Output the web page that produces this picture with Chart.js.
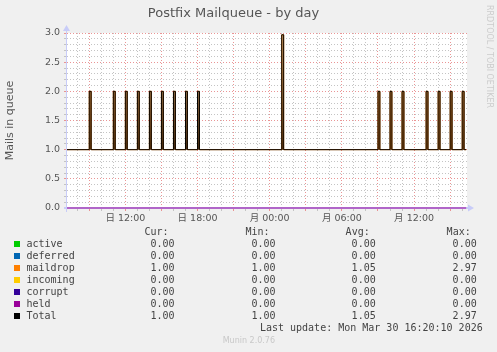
<!DOCTYPE html>
<html>
<head>
<meta charset="utf-8">
<script src="https://cdn.jsdelivr.net/npm/chart.js@4.4.1/dist/chart.umd.min.js"></script>
<style>
  html, body { margin: 0; padding: 0; background: #f0f0f0; }
  #wrap { position: relative; width: 497px; height: 352px; overflow: hidden; }
  #chart { position: absolute; left: 0; top: 0; }
  .txt { position: absolute; white-space: pre; font-family: "DejaVu Sans Mono", monospace; font-size: 10px; line-height: 12px; color: #444; }
  .sq { position: absolute; width: 6px; height: 6px; }
  .small { position: absolute; white-space: pre; font-family: "DejaVu Sans", sans-serif; font-size: 8px; line-height: 10px; color: #c8c8c8; }
  #rrd { writing-mode: vertical-rl; }
</style>
</head>
<body>
<div id="wrap">
  <canvas id="chart" width="497" height="352"></canvas>
</div>
<script>
// x axis is hours since Sunday 00:00
var xMin = 7.15;
var xMax = 40.4;
var lastSample = 40.33;
var xTickHours = [12, 18, 24, 30, 36];
var xTickLabels = ['日 12:00', '日 18:00', '月 00:00', '月 06:00', '月 12:00'];
var yTickValues = [0, 0.5, 1, 1.5, 2, 2.5, 3];
var yTickLabels = ['0.0', '0.5', '1.0', '1.5', '2.0', '2.5', '3.0'];

var seriesNames = ['active', 'deferred', 'maildrop', 'incoming', 'corrupt', 'held', 'Total'];
var seriesColors = ['#00cc00', '#0066b3', '#ff8000', '#ffcc00', '#330099', '#990099', '#000000'];
var baseValues = [0, 0, 1, 0, 0, 0, 1];
var spikeHours = [9, 11, 12, 13, 14, 15, 16, 17, 18, 25, 33, 34, 35, 37, 38, 39, 40];
var spikeValues = [2, 2, 2, 2, 2, 2, 2, 2, 2, 2.97, 2, 2, 2, 2, 2, 2, 2];
var spikeWidth = 0.16;

var curValues = [0, 0, 1, 0, 0, 0, 1];
var minValues = [0, 0, 1, 0, 0, 0, 1];
var avgValues = [0, 0, 1.05, 0, 0, 0, 1.05];
var maxValues = [0, 0, 2.97, 0, 0, 0, 2.97];

var RED = 'rgba(230,130,130,0.85)';
var GRAY = 'rgba(190,190,190,0.9)';
var AXIS = '#c8ccf8';
var tickFont = { family: '"DejaVu Sans", "Noto Sans CJK JP", sans-serif', size: 9.5 };

function buildPoints(i) {
  var base = baseValues[i];
  var pts = [{ x: xMin, y: base }];
  if (maxValues[i] > base) {
    spikeHours.forEach(function (h, k) {
      pts.push({ x: h, y: spikeValues[k] });
      pts.push({ x: h + spikeWidth, y: base });
    });
  }
  pts.push({ x: lastSample, y: base });
  return pts;
}

var datasets = seriesNames.map(function (name, i) {
  var ds = {
    label: name,
    data: buildPoints(i),
    borderColor: seriesColors[i],
    borderWidth: 1,
    pointRadius: 0,
    stepped: true,
    fill: false,
    clip: 3,
    order: seriesNames.length - i
  };
  if (name === 'maildrop') {
    ds.fill = { value: 1 };
    ds.backgroundColor = function (c) {
      var chart = c.chart;
      if (!chart.chartArea) return 'rgba(0,0,0,0)';
      var y = chart.scales.y;
      var g = chart.ctx.createLinearGradient(0, y.getPixelForValue(1), 0, y.getPixelForValue(3));
      g.addColorStop(0, '#3a2412');
      g.addColorStop(1, '#d8b488');
      return g;
    };
  }
  return ds;
});

var plotBg = {
  id: 'plotBg',
  beforeDraw: function (chart) {
    var a = chart.chartArea, ctx = chart.ctx;
    ctx.save();
    ctx.fillStyle = '#ffffff';
    ctx.fillRect(a.left, a.top, a.right - a.left, a.bottom - a.top);
    ctx.restore();
  }
};

// axes go in under the held line, like rrdtool does
function drawAxes(chart) {
  var a = chart.chartArea, ctx = chart.ctx;
  ctx.save();
  ctx.strokeStyle = AXIS;
  ctx.fillStyle = AXIS;
  ctx.lineWidth = 1;
  ctx.beginPath();
  ctx.moveTo(a.left - 0.5, a.bottom + 4);
  ctx.lineTo(a.left - 0.5, a.top - 2);
  ctx.stroke();
  ctx.lineWidth = 2;
  ctx.beginPath();
  ctx.moveTo(a.left - 3, a.bottom);
  ctx.lineTo(a.right + 2, a.bottom);
  ctx.stroke();
  ctx.beginPath();
  ctx.moveTo(a.left - 0.5, a.top - 8);
  ctx.lineTo(a.left - 4, a.top - 2);
  ctx.lineTo(a.left + 3, a.top - 2);
  ctx.closePath();
  ctx.fill();
  ctx.beginPath();
  ctx.moveTo(a.right + 7, a.bottom);
  ctx.lineTo(a.right + 1, a.bottom - 3.5);
  ctx.lineTo(a.right + 1, a.bottom + 3.5);
  ctx.closePath();
  ctx.fill();
  ctx.restore();
}
var axisArrows = {
  id: 'axisArrows',
  afterDatasetDraw: function (chart, args) {
    if (args.index === seriesNames.indexOf('corrupt')) drawAxes(chart);
  }
};

new Chart(document.getElementById('chart'), {
  type: 'line',
  data: { datasets: datasets },
  options: {
    responsive: false,
    devicePixelRatio: 1,
    animation: false,
    layout: { padding: { left: 0, right: 30, top: 0, bottom: 119 } },
    plugins: {
      legend: { display: false },
      tooltip: { enabled: false },
      title: {
        display: true,
        text: 'Postfix Mailqueue - by day',
        color: '#555',
        font: { family: '"DejaVu Sans", sans-serif', size: 13, weight: 'normal' },
        padding: { top: 5.5, bottom: 11.9 }
      }
    },
    scales: {
      x: {
        type: 'linear',
        min: xMin,
        max: xMax,
        afterBuildTicks: function (s) {
          var t = [];
          for (var h = Math.ceil(xMin); h <= xMax; h++) t.push({ value: h });
          s.ticks = t;
        },
        afterFit: function (s) { s.height = 25; },
        ticks: {
          autoSkip: false,
          maxRotation: 0,
          padding: 2,
          color: '#555',
          font: tickFont,
          callback: function (v) {
            var k = xTickHours.indexOf(v);
            return k >= 0 ? xTickLabels[k] : '';
          }
        },
        grid: {
          color: function (c) { return c.tick && c.tick.value % 3 === 0 ? RED : GRAY; },
          tickColor: function (c) { return c.tick && c.tick.value % 3 === 0 ? RED : GRAY; },
          tickLength: 3
        },
        border: { display: false, dash: [1, 2] }
      },
      y: {
        min: 0,
        max: 3,
        afterBuildTicks: function (s) {
          var t = [];
          for (var k = 0; k <= 30; k++) t.push({ value: k / 10 });
          s.ticks = t;
        },
        afterFit: function (s) { s.width = 67; },
        ticks: {
          autoSkip: false,
          padding: 4,
          color: '#555',
          font: tickFont,
          callback: function (v) {
            var k = yTickValues.indexOf(v);
            return k >= 0 ? yTickLabels[k] : '';
          }
        },
        grid: {
          color: function (c) { return c.tick && yTickValues.indexOf(c.tick.value) >= 0 ? RED : GRAY; },
          tickColor: function (c) { return c.tick && yTickValues.indexOf(c.tick.value) >= 0 ? RED : GRAY; },
          tickLength: 3
        },
        border: { display: false, dash: [1, 2] },
        title: {
          display: true,
          text: 'Mails in queue',
          color: '#555',
          font: { family: '"DejaVu Sans", sans-serif', size: 11 },
          padding: { top: 4, bottom: 0 }
        }
      }
    }
  },
  plugins: [plotBg, axisArrows]
});

// legend table below the plot
var wrap = document.getElementById('wrap');
function addText(cls, text, css) {
  var d = document.createElement('div');
  d.className = cls;
  d.textContent = text;
  for (var k in css) d.style[k] = css[k];
  wrap.appendChild(d);
  return d;
}
var colEnds = [174.5, 275.5, 375.7, 476.7];
var headers = ['Cur:', 'Min:', 'Avg:', 'Max:'];
headers.forEach(function (h, c) {
  addText('txt', h, { right: (497 - colEnds[c] + 6) + 'px', top: '226.3px' });
});
seriesNames.forEach(function (name, i) {
  var cy = 244.3 + 12 * i;
  var sq = document.createElement('div');
  sq.className = 'sq';
  sq.style.left = '14px';
  sq.style.top = (cy - 3) + 'px';
  sq.style.background = seriesColors[i];
  wrap.appendChild(sq);
  addText('txt', name, { left: '26.5px', top: (cy - 6) + 'px' });
  [curValues, minValues, avgValues, maxValues].forEach(function (arr, c) {
    addText('txt', arr[i].toFixed(2), { right: (497 - colEnds[c]) + 'px', top: (cy - 6) + 'px' });
  });
});
addText('txt', 'Last update: Mon Mar 30 16:20:10 2026', { right: (497 - 482.7) + 'px', top: '322.3px' });
addText('small', 'Munin 2.0.76', { left: '222.7px', top: '336px' });
var rrd = addText('small', 'RRDTOOL / TOBI OETIKER', { left: '484px', top: '5px', color: '#cccccc' });
rrd.id = 'rrd';
</script>
</body>
</html>
